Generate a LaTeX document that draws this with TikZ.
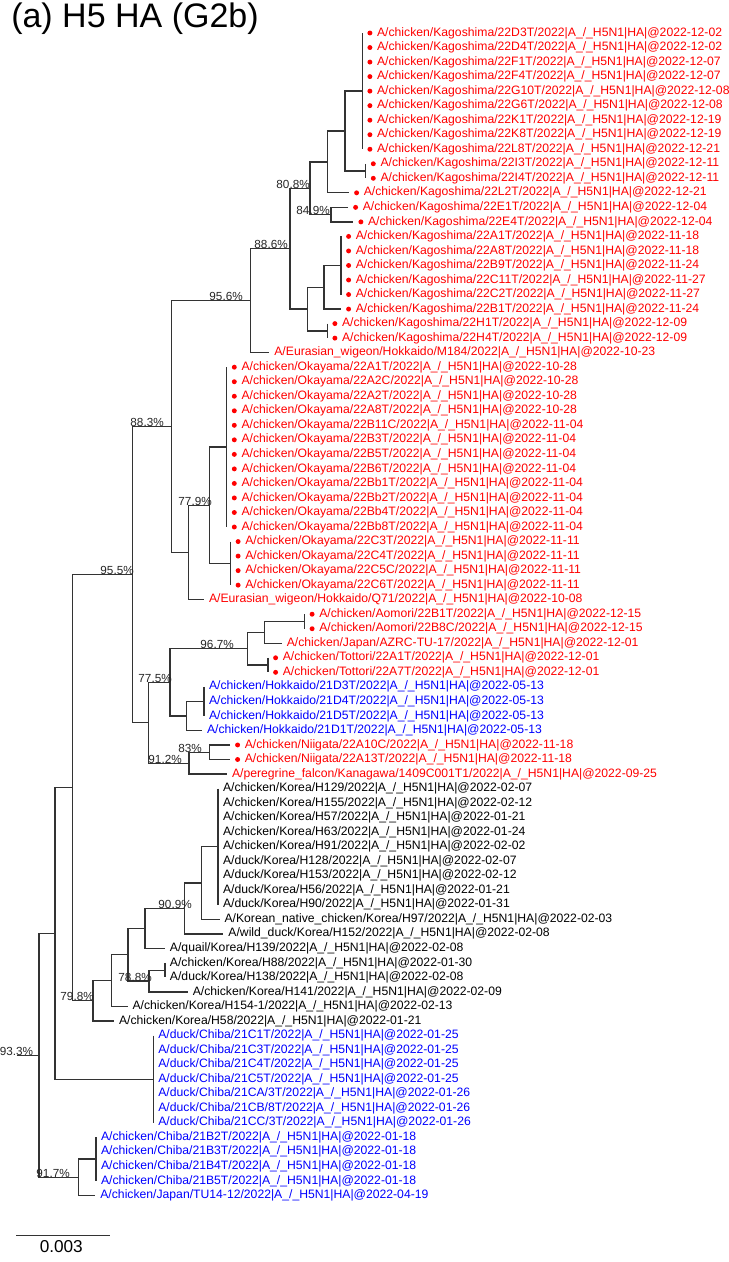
\documentclass[tikz,border=0pt]{standalone}
\usepackage{fontspec}
\setmainfont{Liberation Sans}
\definecolor{lred}{RGB}{255,0,0}
\definecolor{lblue}{RGB}{0,0,255}
\newcommand{\sfx}{|A\_/\_H5N1|HA|@}
\tikzset{
  br/.style={draw=black!80, line width=0.95pt},
  leaf/.style={inner sep=0pt, anchor=west, font=\fontsize{9.14pt}{11pt}\selectfont},
  boot/.style={inner sep=0pt, anchor=base east, font=\fontsize{8.8pt}{10pt}\selectfont, text=black!85},
  mk/.style={circle, inner sep=0pt, minimum size=3.7pt, fill=lred},
}
\newcommand{\leafdot}[3]{%
  \coordinate (l#1) at (#2,#1);
  \node[mk] (d#1) at ([xshift=5.7pt]l#1) {};
  \node[leaf, text=lred] (t#1) at ([xshift=10.9pt]l#1) {#3};}
\newcommand{\leafpl}[4]{%
  \coordinate (l#1) at (#2,#1);
  \node[leaf, text=#3] (t#1) at ([xshift=3.6pt]l#1) {#4};}
\begin{document}
\begin{tikzpicture}[x=0.75pt, y=-10.8975pt]
\useasboundingbox (0,-1.2712) rectangle (729,85.584);
\node[anchor=base west, inner sep=0pt, font=\fontsize{25.5pt}{29pt}\selectfont] (title) at (11,0.62) {(a) H5 HA (G2b)};

% ---------- leaves ----------
\leafdot{1}{362.3}{A/chicken/Kagoshima/22D3T/2022\sfx 2022-12-02}
\leafdot{2}{362.3}{A/chicken/Kagoshima/22D4T/2022\sfx 2022-12-02}
\leafdot{3}{362.3}{A/chicken/Kagoshima/22F1T/2022\sfx 2022-12-07}
\leafdot{4}{362.3}{A/chicken/Kagoshima/22F4T/2022\sfx 2022-12-07}
\leafdot{5}{362.3}{A/chicken/Kagoshima/22G10T/2022\sfx 2022-12-08}
\leafdot{6}{362.3}{A/chicken/Kagoshima/22G6T/2022\sfx 2022-12-08}
\leafdot{7}{362.3}{A/chicken/Kagoshima/22K1T/2022\sfx 2022-12-19}
\leafdot{8}{362.3}{A/chicken/Kagoshima/22K8T/2022\sfx 2022-12-19}
\leafdot{9}{362.3}{A/chicken/Kagoshima/22L8T/2022\sfx 2022-12-21}
\leafdot{10}{365.7}{A/chicken/Kagoshima/22I3T/2022\sfx 2022-12-11}
\leafdot{11}{365.7}{A/chicken/Kagoshima/22I4T/2022\sfx 2022-12-11}
\leafdot{12}{349}{A/chicken/Kagoshima/22L2T/2022\sfx 2022-12-21}
\leafdot{13}{348}{A/chicken/Kagoshima/22E1T/2022\sfx 2022-12-04}
\leafdot{14}{353.3}{A/chicken/Kagoshima/22E4T/2022\sfx 2022-12-04}
\leafdot{15}{341}{A/chicken/Kagoshima/22A1T/2022\sfx 2022-11-18}
\leafdot{16}{341}{A/chicken/Kagoshima/22A8T/2022\sfx 2022-11-18}
\leafdot{17}{341}{A/chicken/Kagoshima/22B9T/2022\sfx 2022-11-24}
\leafdot{18}{341}{A/chicken/Kagoshima/22C11T/2022\sfx 2022-11-27}
\leafdot{19}{341}{A/chicken/Kagoshima/22C2T/2022\sfx 2022-11-27}
\leafdot{20}{341}{A/chicken/Kagoshima/22B1T/2022\sfx 2022-11-24}
\leafdot{21}{327.3}{A/chicken/Kagoshima/22H1T/2022\sfx 2022-12-09}
\leafdot{22}{327.3}{A/chicken/Kagoshima/22H4T/2022\sfx 2022-12-09}
\leafpl{23}{269.3}{lred}{A/Eurasian\_wigeon/Hokkaido/M184/2022\sfx 2022-10-23}
\leafdot{24}{226.7}{A/chicken/Okayama/22A1T/2022\sfx 2022-10-28}
\leafdot{25}{226.7}{A/chicken/Okayama/22A2C/2022\sfx 2022-10-28}
\leafdot{26}{226.7}{A/chicken/Okayama/22A2T/2022\sfx 2022-10-28}
\leafdot{27}{226.7}{A/chicken/Okayama/22A8T/2022\sfx 2022-10-28}
\leafdot{28}{226.7}{A/chicken/Okayama/22B11C/2022\sfx 2022-11-04}
\leafdot{29}{226.7}{A/chicken/Okayama/22B3T/2022\sfx 2022-11-04}
\leafdot{30}{226.7}{A/chicken/Okayama/22B5T/2022\sfx 2022-11-04}
\leafdot{31}{226.7}{A/chicken/Okayama/22B6T/2022\sfx 2022-11-04}
\leafdot{32}{226.7}{A/chicken/Okayama/22Bb1T/2022\sfx 2022-11-04}
\leafdot{33}{226.7}{A/chicken/Okayama/22Bb2T/2022\sfx 2022-11-04}
\leafdot{34}{226.7}{A/chicken/Okayama/22Bb4T/2022\sfx 2022-11-04}
\leafdot{35}{226.7}{A/chicken/Okayama/22Bb8T/2022\sfx 2022-11-04}
\leafdot{36}{230.5}{A/chicken/Okayama/22C3T/2022\sfx 2022-11-11}
\leafdot{37}{230.5}{A/chicken/Okayama/22C4T/2022\sfx 2022-11-11}
\leafdot{38}{230.5}{A/chicken/Okayama/22C5C/2022\sfx 2022-11-11}
\leafdot{39}{230.5}{A/chicken/Okayama/22C6T/2022\sfx 2022-11-11}
\leafpl{40}{204}{lred}{A/Eurasian\_wigeon/Hokkaido/Q71/2022\sfx 2022-10-08}
\leafdot{41}{304.5}{A/chicken/Aomori/22B1T/2022\sfx 2022-12-15}
\leafdot{42}{304.5}{A/chicken/Aomori/22B8C/2022\sfx 2022-12-15}
\leafpl{43}{281.7}{lred}{A/chicken/Japan/AZRC-TU-17/2022\sfx 2022-12-01}
\leafdot{44}{268}{A/chicken/Tottori/22A1T/2022\sfx 2022-12-01}
\leafdot{45}{268}{A/chicken/Tottori/22A7T/2022\sfx 2022-12-01}
\leafpl{46}{204}{lblue}{A/chicken/Hokkaido/21D3T/2022\sfx 2022-05-13}
\leafpl{47}{204}{lblue}{A/chicken/Hokkaido/21D4T/2022\sfx 2022-05-13}
\leafpl{48}{204}{lblue}{A/chicken/Hokkaido/21D5T/2022\sfx 2022-05-13}
\leafpl{49}{202}{lblue}{A/chicken/Hokkaido/21D1T/2022\sfx 2022-05-13}
\leafdot{50}{230}{A/chicken/Niigata/22A10C/2022\sfx 2022-11-18}
\leafdot{51}{230}{A/chicken/Niigata/22A13T/2022\sfx 2022-11-18}
\leafpl{52}{227}{lred}{A/peregrine\_falcon/Kanagawa/1409C001T1/2022\sfx 2022-09-25}
\leafpl{53}{218}{black}{A/chicken/Korea/H129/2022\sfx 2022-02-07}
\leafpl{54}{218}{black}{A/chicken/Korea/H155/2022\sfx 2022-02-12}
\leafpl{55}{218}{black}{A/chicken/Korea/H57/2022\sfx 2022-01-21}
\leafpl{56}{218}{black}{A/chicken/Korea/H63/2022\sfx 2022-01-24}
\leafpl{57}{218}{black}{A/chicken/Korea/H91/2022\sfx 2022-02-02}
\leafpl{58}{218}{black}{A/duck/Korea/H128/2022\sfx 2022-02-07}
\leafpl{59}{218}{black}{A/duck/Korea/H153/2022\sfx 2022-02-12}
\leafpl{60}{218}{black}{A/duck/Korea/H56/2022\sfx 2022-01-21}
\leafpl{61}{218}{black}{A/duck/Korea/H90/2022\sfx 2022-01-31}
\leafpl{62}{219.5}{black}{A/Korean\_native\_chicken/Korea/H97/2022\sfx 2022-02-03}
\leafpl{63}{223.4}{black}{A/wild\_duck/Korea/H152/2022\sfx 2022-02-08}
\leafpl{64}{164.9}{black}{A/quail/Korea/H139/2022\sfx 2022-02-08}
\leafpl{65}{164.9}{black}{A/chicken/Korea/H88/2022\sfx 2022-01-30}
\leafpl{66}{164.9}{black}{A/duck/Korea/H138/2022\sfx 2022-02-08}
\leafpl{67}{187.7}{black}{A/chicken/Korea/H141/2022\sfx 2022-02-09}
\leafpl{68}{127.5}{black}{A/chicken/Korea/H154-1/2022\sfx 2022-02-13}
\leafpl{69}{114}{black}{A/chicken/Korea/H58/2022\sfx 2022-01-21}
\leafpl{70}{153.3}{lblue}{A/duck/Chiba/21C1T/2022\sfx 2022-01-25}
\leafpl{71}{153.3}{lblue}{A/duck/Chiba/21C3T/2022\sfx 2022-01-25}
\leafpl{72}{153.3}{lblue}{A/duck/Chiba/21C4T/2022\sfx 2022-01-25}
\leafpl{73}{153.3}{lblue}{A/duck/Chiba/21C5T/2022\sfx 2022-01-25}
\leafpl{74}{153.3}{lblue}{A/duck/Chiba/21CA/3T/2022\sfx 2022-01-26}
\leafpl{75}{153.3}{lblue}{A/duck/Chiba/21CB/8T/2022\sfx 2022-01-26}
\leafpl{76}{153.3}{lblue}{A/duck/Chiba/21CC/3T/2022\sfx 2022-01-26}
\leafpl{77}{96}{lblue}{A/chicken/Chiba/21B2T/2022\sfx 2022-01-18}
\leafpl{78}{96}{lblue}{A/chicken/Chiba/21B3T/2022\sfx 2022-01-18}
\leafpl{79}{96}{lblue}{A/chicken/Chiba/21B4T/2022\sfx 2022-01-18}
\leafpl{80}{96}{lblue}{A/chicken/Chiba/21B5T/2022\sfx 2022-01-18}
\leafpl{81}{95.3}{lblue}{A/chicken/Japan/TU14-12/2022\sfx 2022-04-19}

% ---------- internal nodes ----------
\coordinate (A) at (362.3,5);
\coordinate (A2) at (365.7,10.5);
\coordinate (B) at (345,7.75);
\coordinate (C) at (327.7,9.875);
\coordinate (E) at (331,13.5);
\coordinate (D) at (310,11.6875);
\coordinate (J) at (341,17);
\coordinate (H) at (324,18.5);
\coordinate (I) at (327.3,21.5);
\coordinate (G) at (307.3,20);
\coordinate (F) at (290,15.84375);
\coordinate (K) at (250.5,19.421875);
\coordinate (O) at (226.7,29.5);
\coordinate (P) at (230.5,37.5);
\coordinate (N) at (209.3,33.5);
\coordinate (M) at (188.3,36.75);
\coordinate (L) at (171.7,28.0859);
\coordinate (X) at (304.5,41.5);
\coordinate (W) at (264.5,42.25);
\coordinate (Y) at (268,44.5);
\coordinate (U) at (247.5,43.375);
\coordinate (Z) at (204,47);
\coordinate (V) at (186.7,48);
\coordinate (S) at (170,45.6875);
\coordinate (AA) at (209.3,50.5);
\coordinate (T) at (189,51.25);
\coordinate (R) at (148.3,48.46875);
\coordinate (Q) at (132.3,38.2773);
\coordinate (KA) at (218,57);
\coordinate (KB) at (201.7,59.5);
\coordinate (KC) at (184.8,61.25);
\coordinate (KD) at (144.9,62.625);
\coordinate (KG) at (164.9,65.5);
\coordinate (KF) at (149,66.25);
\coordinate (KE) at (128,64.4375);
\coordinate (KH) at (111.5,66.21875);
\coordinate (KI) at (93,67.6094);
\coordinate (KJ) at (72.6,52.9434);
\coordinate (DC) at (153.3,73);
\coordinate (KK) at (55,62.9717);
\coordinate (CC2) at (96,78.5);
\coordinate (CC) at (78.3,79.75);
\coordinate (KL) at (39,71.3608);
\coordinate (root) at (16.5,71.3608);

% ---------- branches ----------
\draw[br] (l1) -| (A) |- (l9);
\draw[br] (l10) -| (A2) |- (l11);
\draw[br] (A) -| (B) |- (A2);
\draw[br] (B) -| (C) |- (l12);
\draw[br] (l13) -| (E) |- (l14);
\draw[br] (C) -| (D) |- (E);
\draw[br] (l15) -| (J) |- (l19);
\draw[br] (J) -| (H) |- (l20);
\draw[br] (l21) -| (I) |- (l22);
\draw[br] (H) -| (G) |- (I);
\draw[br] (D) -| (F) |- (G);
\draw[br] (F) -| (K) |- (l23);
\draw[br] (l24) -| (O) |- (l35);
\draw[br] (l36) -| (P) |- (l39);
\draw[br] (O) -| (N) |- (P);
\draw[br] (N) -| (M) |- (l40);
\draw[br] (K) -| (L) |- (M);
\draw[br] (l41) -| (X) |- (l42);
\draw[br] (X) -| (W) |- (l43);
\draw[br] (l44) -| (Y) |- (l45);
\draw[br] (W) -| (U) |- (Y);
\draw[br] (l46) -| (Z) |- (l48);
\draw[br] (Z) -| (V) |- (l49);
\draw[br] (U) -| (S) |- (V);
\draw[br] (l50) -| (AA) |- (l51);
\draw[br] (AA) -| (T) |- (l52);
\draw[br] (S) -| (R) |- (T);
\draw[br] (L) -| (Q) |- (R);
\draw[br] (l53) -| (KA) |- (l61);
\draw[br] (KA) -| (KB) |- (l62);
\draw[br] (KB) -| (KC) |- (l63);
\draw[br] (KC) -| (KD) |- (l64);
\draw[br] (l65) -| (KG) |- (l66);
\draw[br] (KG) -| (KF) |- (l67);
\draw[br] (KD) -| (KE) |- (KF);
\draw[br] (KE) -| (KH) |- (l68);
\draw[br] (KH) -| (KI) |- (l69);
\draw[br] (Q) -| (KJ) |- (KI);
\draw[br] (l70) -| (DC) |- (l76);
\draw[br] (KJ) -| (KK) |- (DC);
\draw[br] (l77) -| (CC2) |- (l80);
\draw[br] (CC2) -| (CC) |- (l81);
\draw[br] (KK) -| (KL) |- (CC);
\draw[br] (root) -- (KL);

% ---------- bootstrap values ----------
\node[boot] (bD) at (310,11.6875) {80.8\%};
\node[boot] (bE) at (330,13.5) {84.9\%};
\node[boot] (bF) at (288,15.84375) {88.6\%};
\node[boot] (bK) at (243,19.421875) {95.6\%};
\node[boot] (bL) at (164,28.0859) {88.3\%};
\node[boot] (bN) at (212,33.5) {77.9\%};
\node[boot] (bQ) at (134,38.2773) {95.5\%};
\node[boot] (bU) at (234,43.375) {96.7\%};
\node[boot] (bS) at (172,45.6875) {77.5\%};
\node[boot] (bAA) at (202,50.5) {83\%};
\node[boot] (bT) at (182,51.25) {91.2\%};
\node[boot] (bKC) at (192,61.25) {90.9\%};
\node[boot] (bKF) at (152,66.25) {78.8\%};
\node[boot] (bKI) at (94,67.6094) {79.8\%};
\node[boot] (bKL) at (33.3,71.3608) {93.3\%};
\node[boot] (bCC) at (70,79.75) {91.7\%};

% ---------- scale bar ----------
\coordinate (sb1) at (16,83.773);
\coordinate (sb2) at (110,83.773);
\draw[br] (sb1) -- (sb2);
\node[anchor=base, inner sep=0pt, font=\fontsize{12.9pt}{14pt}\selectfont] (sbl) at (61.3,84.895) {0.003};
\end{tikzpicture}
\end{document}
